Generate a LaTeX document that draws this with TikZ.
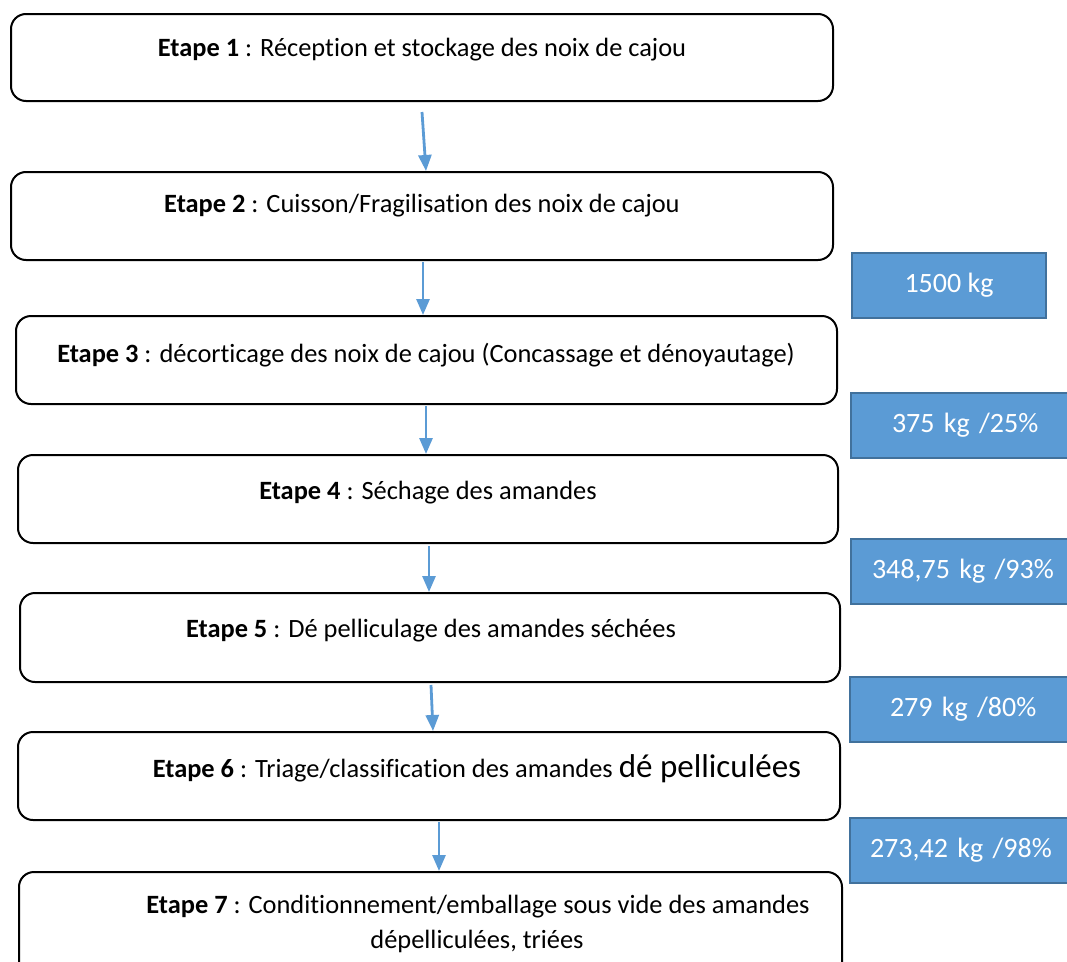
\documentclass[tikz,border=0pt]{standalone}
\usepackage{fontspec}
\setmainfont{Carlito}[Ligatures=CommonOff]
\usetikzlibrary{arrows.meta}
\definecolor{bluefill}{HTML}{5B9BD5}
\definecolor{blueedge}{HTML}{41719C}
\definecolor{arrowblue}{HTML}{5B9BD5}
\tikzset{
  stepbox/.style={draw=black, line width=2pt, rounded corners=15pt, fill=white, inner sep=0pt},
  qtybox/.style={draw=blueedge, line width=1.5pt, fill=bluefill, inner sep=0pt, text=white, font=\fontsize{28}{34}\selectfont},
  steptext/.style={anchor=base, inner sep=0pt, font=\fontsize{26.4}{32}\selectfont},
  flow/.style={draw=arrowblue, line width=2.8pt, -{Triangle[length=16pt,width=13pt]}},
}
\begin{document}
\begin{tikzpicture}[x=1pt,y=-1pt]
\useasboundingbox (0,0) rectangle (1067,961);
\clip (0,0) rectangle (1067,961);
\fill[white] (0,0) rectangle (1067,961);
% step boxes
\node[stepbox, minimum width=822pt, minimum height=87pt] (s1) at (422,57.5) {};
\node[stepbox, minimum width=822pt, minimum height=88pt] (s2) at (422,216) {};
\node[stepbox, minimum width=821pt, minimum height=88pt] (s3) at (426.5,360) {};
\node[stepbox, minimum width=820pt, minimum height=88pt] (s4) at (428,499) {};
\node[stepbox, minimum width=820pt, minimum height=89pt] (s5) at (430,637.5) {};
\node[stepbox, minimum width=822pt, minimum height=88pt] (s6) at (429,776) {};
\node[stepbox, minimum width=823pt, minimum height=110pt] (s7) at (430.5,927) {};
% texts
\node[steptext] (t1) at (422,56) {\textbf{Etape 1} : Réception et stockage des noix de cajou};
\node[steptext] (t2) at (422,212) {\textbf{Etape 2} : Cuisson/Fragilisation des noix de cajou};
\node[steptext] (t3) at (426,362) {\textbf{Etape 3} : décorticage des noix de cajou (Concassage et dénoyautage)};
\node[steptext] (t4) at (428,499) {\textbf{Etape 4} : Séchage des amandes};
\node[steptext] (t5) at (431,637) {\textbf{Etape 5} : Dé pelliculage des amandes séchées};
\node[steptext] (t6) at (477,777) {\textbf{Etape 6} : Triage/classification des amandes {\fontsize{33}{38}\selectfont dé pelliculées}};
\node[steptext] (t7a) at (478,913) {\textbf{Etape 7} : Conditionnement/emballage sous vide des amandes};
\node[steptext] (t7b) at (477,948) {dépelliculées, triées};
% quantity boxes
\node[qtybox, minimum width=194pt, minimum height=65pt] (q1) at (949,285.5) {1500 kg};
\node[qtybox, minimum width=230pt, minimum height=65pt, text width=216pt, align=left] (q2) at (966,425.5) {\hspace*{34pt}375 kg /25\%};
\node[qtybox, minimum width=230pt, minimum height=65pt, text width=226pt, align=left] (q3) at (966,571.5) {\hspace*{19pt}348,75 kg /93\%};
\node[qtybox, minimum width=230pt, minimum height=65pt, text width=216pt, align=left] (q4) at (965,709.5) {\hspace*{33pt}279 kg /80\%};
\node[qtybox, minimum width=230pt, minimum height=65pt, text width=226pt, align=left] (q5) at (965,850.5) {\hspace*{18pt}273,42 kg /98\%};
% arrows
\coordinate (a1) at (422,112);
\coordinate (a2) at (423,262);
\coordinate (a3) at (426,406);
\coordinate (a4) at (429,546);
\coordinate (a5) at (431,685);
\coordinate (a6) at (439,822);
\draw[flow] (a1) -- (s2.north -| 426,0);
\draw[flow] (a2) -- (s3.north -| 423,0);
\draw[flow] (a3) -- (s4.north -| 426,0);
\draw[flow] (a4) -- (s5.north -| 429,0);
\draw[flow] (a5) -- (s6.north -| 433,0);
\draw[flow] (a6) -- (s7.north -| 439,0);
\end{tikzpicture}
\end{document}
